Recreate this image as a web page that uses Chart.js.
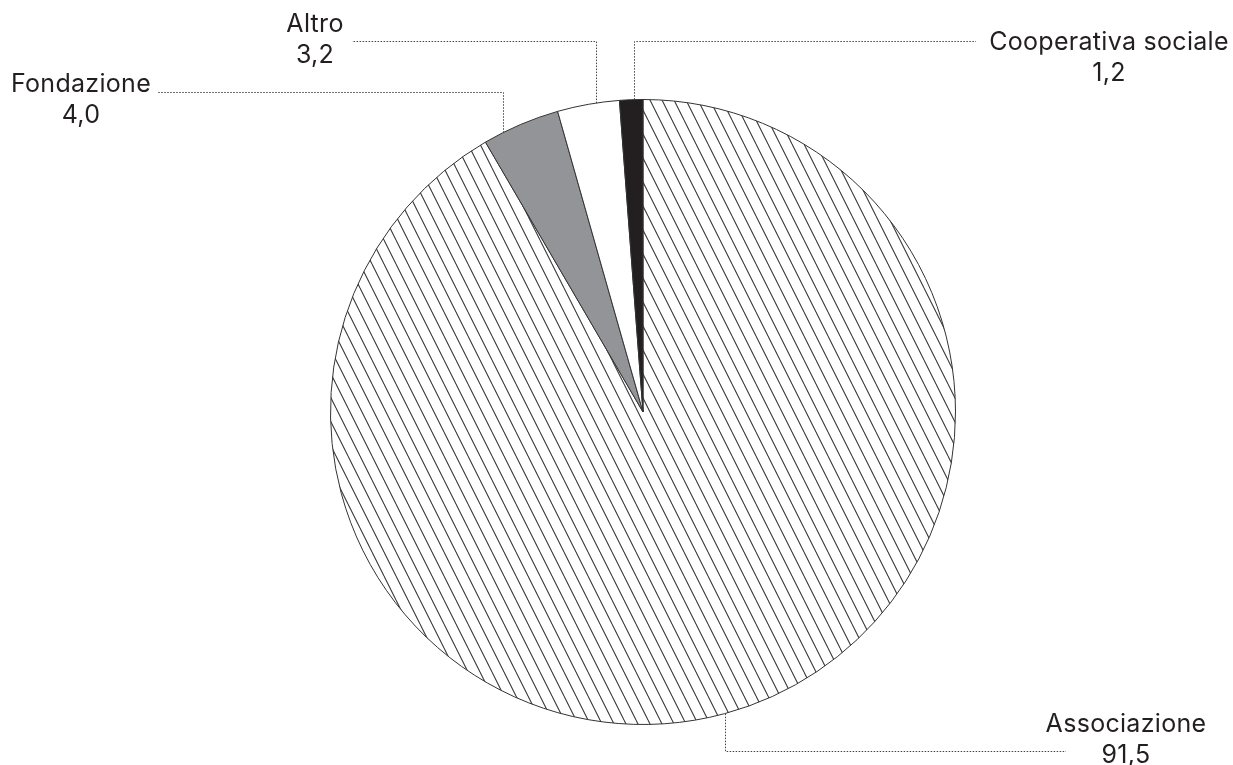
<!DOCTYPE html>
<html>
<head>
<meta charset="utf-8">
<script src="https://cdn.jsdelivr.net/npm/chart.js@4.4.1/dist/chart.umd.min.js"></script>
<style>
  html, body { margin: 0; padding: 0; background: #fff; }
  #wrap { width: 1233px; height: 765px; position: relative; }
</style>
</head>
<body>
<div id="wrap"><canvas id="torta"></canvas></div>
<script>
// forme giuridiche (%)
const categorie = ["Associazione", "Fondazione", "Altro", "Cooperativa sociale"];
const valori = [91.5, 4.0, 3.2, 1.2];

const FONT = "25px Inter, Roboto, sans-serif";
const TESTO = "#231f20";

// tratteggio diagonale per l'associazione
function tratteggio() {
  const c = document.createElement("canvas");
  c.width = 12;
  c.height = 24;
  const g = c.getContext("2d");
  g.strokeStyle = "#3a3a3a";
  g.lineWidth = 1.1;
  g.beginPath();
  g.moveTo(-12, 0); g.lineTo(0, 24);
  g.moveTo(0, 0); g.lineTo(12, 24);
  g.moveTo(12, 0); g.lineTo(24, 24);
  g.stroke();
  return g.createPattern(c, "repeat");
}

// richiami: punto sull'arco (frazione della fetta), gomito, fine linea, testo
const etichette = [
  { t: 0.5, yGomito: 751, xLinea: 1066, cx: 1126, base: 732 },
  { t: 0.25, yGomito: 92, xLinea: 158, cx: 81, base: 92 },
  { t: 0.62, yGomito: 41, xLinea: 352, cx: 315, base: 32 },
  { t: 0.62, yGomito: 41, xLinea: 976, cx: 1109, base: 50 }
];

const richiami = {
  id: "richiami",
  afterDatasetsDraw(chart) {
    const ctx = chart.ctx;
    const archi = chart.getDatasetMeta(0).data;
    ctx.save();
    ctx.font = FONT;
    ctx.letterSpacing = "0.3px";
    archi.forEach((a, i) => {
      const e = etichette[i];
      const ang = a.startAngle + (a.endAngle - a.startAngle) * e.t;
      const x0 = Math.round(a.x + Math.cos(ang) * a.outerRadius) + 0.5;
      const y0 = a.y + Math.sin(ang) * a.outerRadius;

      ctx.strokeStyle = "#444";
      ctx.lineWidth = 1;
      ctx.setLineDash([1.5, 1.5]);
      ctx.beginPath();
      ctx.moveTo(x0, y0);
      ctx.lineTo(x0, e.yGomito + 0.5);
      ctx.lineTo(e.xLinea, e.yGomito + 0.5);
      ctx.stroke();

      ctx.setLineDash([]);
      ctx.fillStyle = TESTO;
      ctx.textAlign = "center";
      ctx.textBaseline = "alphabetic";
      ctx.fillText(categorie[i], e.cx, e.base);
      ctx.fillText(valori[i].toFixed(1).replace(".", ","), e.cx, e.base + 31);
    });
    ctx.restore();
  }
};

new Chart(document.getElementById("torta"), {
  type: "pie",
  data: {
    labels: categorie,
    datasets: [{
      data: valori,
      backgroundColor: [tratteggio(), "#939497", "#ffffff", "#231f20"],
      borderColor: "#333",
      borderWidth: 1
    }]
  },
  options: {
    responsive: true,
    maintainAspectRatio: false,
    animation: false,
    layout: { padding: { left: 330, right: 277, top: 99, bottom: 40 } },
    plugins: {
      legend: { display: false },
      tooltip: { enabled: false }
    }
  },
  plugins: [richiami]
});
</script>
</body>
</html>
